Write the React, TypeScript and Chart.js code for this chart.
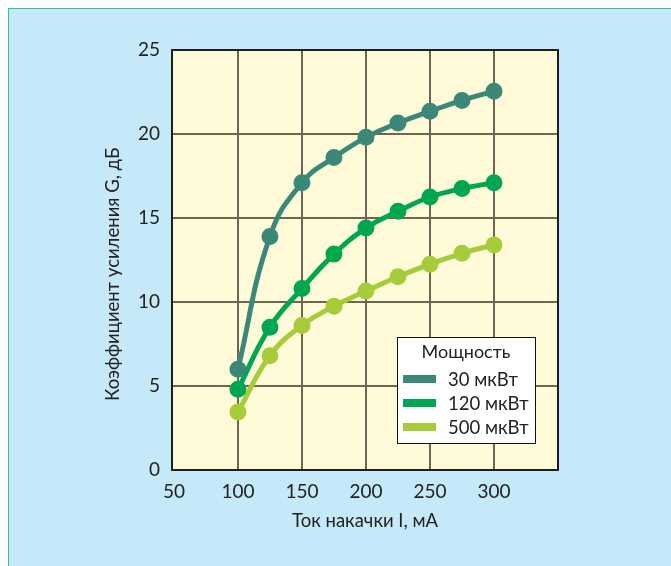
import React, { useEffect, useRef } from "react";
import { Chart, registerables } from "chart.js";

Chart.register(...registerables);

const currents = [100, 125, 150, 175, 200, 225, 250, 275, 300];
const gain30 = [6.0, 13.9, 17.1, 18.6, 19.8, 20.65, 21.35, 22.0, 22.55];
const gain120 = [4.8, 8.5, 10.8, 12.85, 14.4, 15.4, 16.25, 16.75, 17.1];
const gain500 = [3.45, 6.8, 8.6, 9.75, 10.65, 11.5, 12.25, 12.9, 13.4];
const seriesLabels = ["30 мкВт", "120 мкВт", "500 мкВт"];
const xTicks = [50, 100, 150, 200, 250, 300];
const legendTitle = "Мощность";
const xTitle = "Ток накачки I, мА";
const yTitle = "Коэффициент усиления G, дБ";

const colors = ["#3b8878", "#00a651", "#a6cd39"];
const FONT = "Lato, 'Open Sans', sans-serif";

const areaPlugin = {
  id: "areaPlugin",
  beforeDraw(chart: any) {
    const { ctx, chartArea: a } = chart;
    ctx.save();
    ctx.fillStyle = "#fffbd8";
    ctx.fillRect(a.left, a.top, a.right - a.left, a.bottom - a.top);
    ctx.restore();
  },
  afterDatasetsDraw(chart: any) {
    const { ctx, chartArea: a } = chart;
    ctx.save();
    ctx.strokeStyle = "#1e1e1e";
    ctx.lineWidth = 2;
    ctx.strokeRect(a.left, a.top, a.right - a.left, a.bottom - a.top);
    ctx.restore();
  },
  afterDraw(chart: any) {
    const { ctx, chartArea: a } = chart;
    const bx = a.left + 225;
    const by = a.top + 287;
    const bw = 138;
    const bh = 106;
    ctx.save();
    ctx.fillStyle = "#ffffff";
    ctx.fillRect(bx, by, bw, bh);
    ctx.strokeStyle = "#111";
    ctx.lineWidth = 1;
    ctx.strokeRect(bx + 0.5, by + 0.5, bw, bh);
    ctx.fillStyle = "#222";
    ctx.font = `18px ${FONT}`;
    ctx.textAlign = "center";
    ctx.textBaseline = "middle";
    ctx.fillText(legendTitle, bx + bw / 2, by + 15);
    ctx.textAlign = "left";
    ctx.font = `18.5px ${FONT}`;
    chart.data.datasets.forEach((ds: any, i: number) => {
      const cy = by + 42 + i * 24;
      ctx.fillStyle = ds.borderColor;
      ctx.fillRect(bx + 6, cy - 4, 33, 8);
      ctx.fillStyle = "#222";
      ctx.fillText(ds.label, bx + 51, cy + 1);
    });
    ctx.restore();
  },
};

export default function App() {
  const ref = useRef<HTMLCanvasElement>(null);
  useEffect(() => {
    if (!ref.current) return;
    const series = [gain30, gain120, gain500];
    const chart = new Chart(ref.current, {
      type: "line",
      data: {
        datasets: series.map((vals, i) => ({
          label: seriesLabels[i],
          data: currents.map((x, j) => ({ x, y: vals[j] })),
          borderColor: colors[i],
          backgroundColor: colors[i],
          borderWidth: 5,
          pointRadius: 6,
          pointHoverRadius: 6,
          tension: 0.45,
          fill: false,
        })),
      },
      options: {
        responsive: false,
        animation: false,
        layout: { padding: { top: 50, right: 113, left: 0, bottom: 0 } },
        plugins: { legend: { display: false }, tooltip: { enabled: false } },
        scales: {
          x: {
            type: "linear",
            min: 48.5,
            max: 350,
            afterBuildTicks: (scale: any) => {
              scale.ticks = xTicks.map((v) => ({ value: v }));
            },
            afterFit: (scale: any) => {
              scale.height = 96;
            },
            grid: {
              color: (c: any) => (c.tick && c.tick.value === 50 ? "rgba(0,0,0,0)" : "#6d6554"),
              lineWidth: 2,
              drawTicks: false,
            },
            border: { display: false },
            ticks: {
              color: "#222",
              font: { family: FONT, size: 19 },
              padding: 10,
              maxRotation: 0,
              autoSkip: false,
            },
            title: {
              display: true,
              text: xTitle,
              color: "#222",
              font: { family: FONT, size: 18.5 },
              padding: { top: 0, bottom: 34 },
            },
          },
          y: {
            type: "linear",
            min: 0,
            max: 25,
            afterFit: (scale: any) => {
              scale.width = 172;
            },
            grid: { color: "#6d6554", lineWidth: 2, drawTicks: false },
            border: { display: false },
            ticks: {
              stepSize: 5,
              color: "#222",
              font: { family: FONT, size: 19 },
              padding: 12,
            },
            title: {
              display: true,
              text: yTitle + "      ",
              color: "#222",
              font: { family: FONT, size: 18.5 },
              padding: { top: 102, bottom: 0 },
            },
          },
        },
      },
      plugins: [areaPlugin],
    });
    return () => chart.destroy();
  }, []);

  return (
    <>
      <div
        style={{
          position: "fixed",
          left: 8,
          top: 8,
          width: 800,
          height: 700,
          background: "#c6e9f9",
          borderLeft: "1px solid #2fc39a",
          borderTop: "1px solid #2fc39a",
        }}
      />
      <canvas
        ref={ref}
        width={671}
        height={566}
        style={{ position: "fixed", left: 0, top: 0, width: 671, height: 566 }}
      />
    </>
  );
}
